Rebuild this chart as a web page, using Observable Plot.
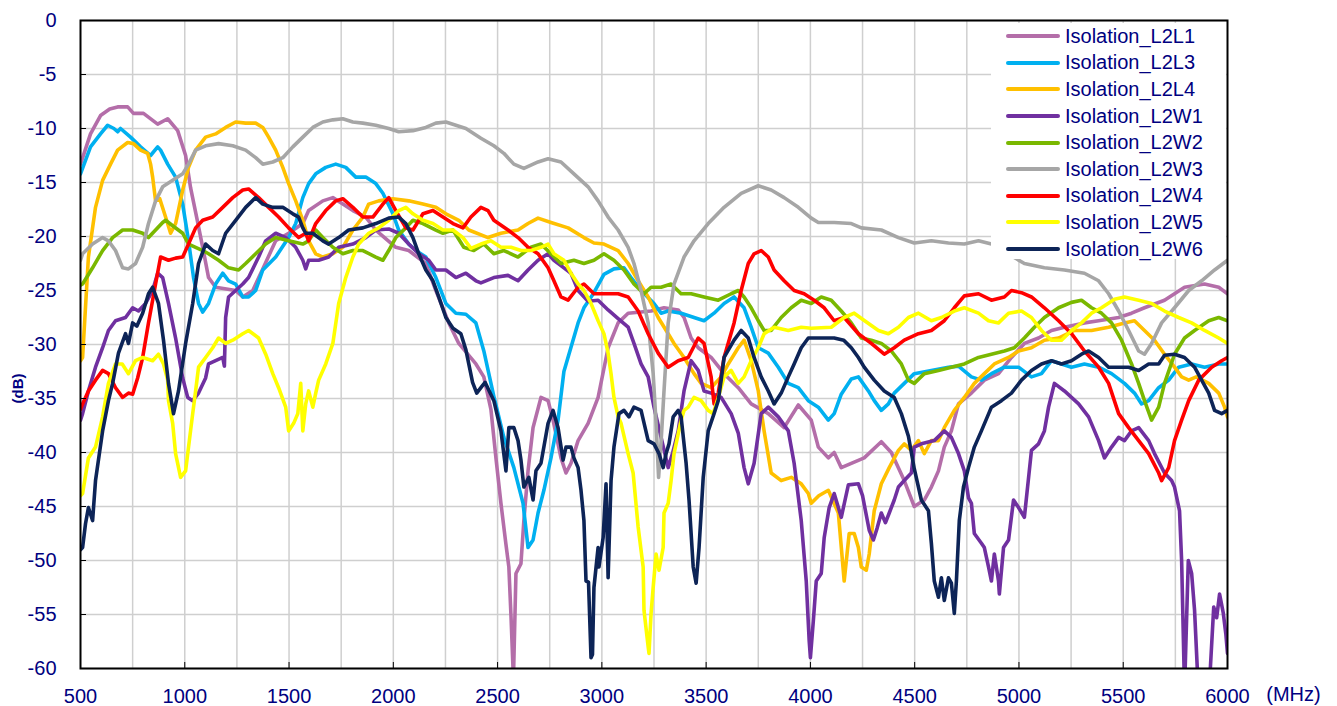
<!DOCTYPE html>
<html>
<head>
<meta charset="utf-8">
<script src="https://cdn.jsdelivr.net/npm/d3@7"></script>
<script src="https://cdn.jsdelivr.net/npm/@observablehq/plot@0.6"></script>
<style>
  html, body { margin: 0; padding: 0; background: #fff; }
  #wrap { position: relative; width: 1337px; height: 706px; overflow: hidden; }
  #wrap svg { display: block; }
  #legend { position: absolute; left: 991px; top: 23px; width: 235px; height: 236px; background: #fff;
            font-family: Arial, "Liberation Sans", sans-serif; font-size: 20px; color: #000080; }
  .row { height: 26.6px; display: flex; align-items: center; white-space: nowrap; }
  .sw { width: 54px; height: 4px; margin-left: 15px; margin-right: 5px; border-radius: 2px; }
</style>
</head>
<body>
<div id="wrap"><div id="legend"></div></div>
<script>
// ---------- data (MHz, dB) ----------
const seriesNames = ["Isolation_L2L1","Isolation_L2L3","Isolation_L2L4","Isolation_L2W1","Isolation_L2W2","Isolation_L2W3","Isolation_L2W4","Isolation_L2W5","Isolation_L2W6"];
const seriesColors = ["#b46ea9","#00b0f0","#ffc000","#7030a0","#7ab800","#a6a6a6","#ff0000","#ffff00","#0d2457"];

const L2L1 = [[500,-13.3],[548,-10.5],[596,-8.8],[640,-8.2],[678,-8.0],[726,-8.0],[754,-8.6],[802,-8.6],[870,-9.6],[918,-9.1],[966,-10.2],[1004,-12.5],[1028,-15.5],[1060,-18.5],[1086,-21],[1114,-23.8],[1148,-24.7],[1244,-25],[1278,-25.6],[1326,-25],[1374,-23],[1436,-20.4],[1498,-19.7],[1566,-18.8],[1594,-17.6],[1662,-16.7],[1710,-16.4],[1758,-17],[1806,-17.6],[1868,-18.2],[1916,-19.4],[2012,-21],[2074,-21.3],[2156,-22.5],[2204,-25],[2266,-28],[2314,-29.9],[2396,-31.8],[2434,-33],[2468,-36],[2492,-40.5],[2516,-44.7],[2540,-48.5],[2554,-50.6],[2564,-55],[2576,-61],[2588,-51.2],[2612,-50.3],[2626,-46.3],[2646,-41.7],[2670,-37.7],[2708,-34.9],[2742,-35.2],[2766,-37],[2804,-40.5],[2828,-41.9],[2852,-41],[2886,-38.9],[2934,-37.3],[2982,-34.9],[3030,-30.3],[3078,-28],[3126,-27.1],[3236,-26.9],[3298,-26.6],[3366,-26.8],[3394,-27.5],[3428,-29.4],[3462,-30.3],[3524,-31.2],[3586,-32.7],[3654,-34],[3716,-35.5],[3798,-36.4],[3874,-37.7],[3942,-35.6],[4004,-37],[4038,-39.5],[4086,-40.5],[4114,-40],[4148,-41.4],[4196,-41],[4258,-40.5],[4340,-39],[4388,-40],[4450,-42.6],[4498,-45],[4546,-44.4],[4580,-43.2],[4614,-41.7],[4642,-39.5],[4676,-38],[4710,-35.5],[4772,-34.5],[4834,-33.3],[4902,-32.7],[4964,-31.2],[5026,-29.9],[5094,-29.4],[5156,-28.7],[5218,-28.4],[5314,-28],[5382,-27.8],[5478,-27.5],[5540,-27.1],[5602,-26.6],[5698,-25.9],[5794,-24.7],[5890,-24.4],[5958,-24.7],[6000,-25.3]];

const L2L3 = [[500,-14.2],[548,-11.7],[596,-10.5],[630,-9.7],[660,-10],[678,-10.3],[692,-10],[740,-10.8],[788,-11.7],[836,-12.5],[870,-11.7],[884,-12],[918,-13.3],[956,-14.5],[990,-17],[1018,-20.4],[1042,-23.8],[1066,-26.2],[1086,-27],[1114,-26.2],[1148,-24.4],[1182,-23.4],[1210,-24.1],[1244,-24.4],[1278,-25.6],[1306,-25.6],[1340,-25],[1374,-23.1],[1436,-21.9],[1498,-20.1],[1532,-18.8],[1566,-16.4],[1594,-15.1],[1628,-14.2],[1676,-13.6],[1724,-13.3],[1772,-13.6],[1820,-14.5],[1868,-14.5],[1916,-15.1],[1950,-16],[1998,-17.9],[2026,-19.4],[2074,-20.7],[2108,-21.3],[2156,-21.9],[2204,-23.8],[2252,-26.2],[2300,-27.1],[2348,-27.2],[2396,-28],[2434,-30.6],[2482,-34.8],[2530,-38.6],[2578,-41.4],[2622,-44.7],[2646,-48.8],[2670,-48.1],[2694,-45.6],[2722,-43.5],[2756,-40.5],[2790,-37],[2818,-32.5],[2886,-28],[2914,-26.6],[2962,-25.2],[3010,-23.5],[3058,-23],[3106,-22.9],[3140,-23.8],[3188,-25],[3250,-26.2],[3284,-27.1],[3318,-26.9],[3380,-27.1],[3442,-27.5],[3490,-27.8],[3538,-27.1],[3586,-26.2],[3634,-25.6],[3682,-26.6],[3716,-28.4],[3750,-30.3],[3798,-30.8],[3846,-32.1],[3894,-33.6],[3942,-34],[3990,-35.2],[4038,-35.8],[4086,-37],[4114,-36.4],[4148,-34.6],[4196,-33.2],[4230,-33],[4278,-34.3],[4306,-35.2],[4340,-36.1],[4374,-35.5],[4402,-34.5],[4450,-33.6],[4498,-32.7],[4580,-32.4],[4662,-32.1],[4710,-32],[4772,-33],[4820,-33.3],[4868,-32.7],[4930,-32.1],[4998,-32.1],[5060,-33],[5108,-32.7],[5156,-31.5],[5204,-31.8],[5252,-32.1],[5314,-31.8],[5382,-32.1],[5444,-32.7],[5506,-33.6],[5554,-34.5],[5588,-35.5],[5622,-35.2],[5670,-34],[5718,-33.3],[5766,-32.1],[5828,-31.8],[5890,-32.1],[5958,-31.8],[6000,-31.8]];

const L2L4 = [[500,-31.5],[510,-31.2],[538,-21.9],[572,-17.3],[606,-14.8],[644,-13.3],[678,-12],[726,-11.3],[754,-11.4],[788,-12],[822,-12.3],[836,-13.3],[846,-14.5],[860,-16.7],[880,-16.5],[908,-18.2],[932,-19.7],[956,-18.8],[990,-15.7],[1018,-13.6],[1052,-12],[1100,-10.8],[1148,-10.5],[1196,-9.9],[1244,-9.4],[1292,-9.5],[1340,-9.5],[1374,-9.9],[1402,-10.8],[1436,-12],[1470,-13.6],[1498,-15.1],[1532,-16.7],[1566,-18.5],[1594,-20.4],[1628,-21.6],[1662,-21.9],[1710,-21.6],[1758,-21],[1806,-19.4],[1854,-18.2],[1882,-17],[1930,-16.7],[1998,-16.5],[2074,-16.7],[2142,-17],[2204,-17.3],[2252,-17.9],[2314,-18.5],[2362,-19.4],[2454,-20.1],[2516,-19.7],[2598,-19.4],[2646,-18.8],[2694,-18.3],[2756,-18.7],[2838,-19.2],[2914,-20.1],[2962,-20.6],[3010,-20.7],[3078,-21.3],[3126,-22.5],[3174,-24.1],[3222,-25.6],[3270,-27.5],[3318,-29],[3346,-29.9],[3394,-31.2],[3442,-32.7],[3476,-33.6],[3524,-34],[3572,-33],[3606,-31.8],[3654,-30.3],[3682,-29.6],[3716,-31.5],[3750,-34.3],[3778,-38],[3812,-41.9],[3860,-42.6],[3908,-42.3],[3956,-42.9],[3990,-43.8],[4004,-44.7],[4040,-44],[4086,-43.5],[4134,-45.6],[4162,-51.9],[4186,-47.5],[4210,-47.5],[4230,-48.8],[4244,-50.6],[4268,-50.9],[4282,-49.4],[4306,-45.4],[4340,-42.9],[4378,-41.4],[4422,-39.8],[4450,-39.2],[4484,-39.8],[4518,-38.9],[4546,-40.1],[4580,-38.9],[4614,-38.9],[4642,-37.7],[4690,-36.1],[4738,-34.9],[4786,-33.6],[4834,-32.7],[4882,-31.8],[4950,-31.2],[4998,-30.6],[5060,-30.3],[5122,-29.6],[5190,-29.4],[5266,-28.7],[5348,-28.7],[5430,-28.4],[5506,-28],[5554,-27.8],[5602,-28.7],[5650,-29.6],[5698,-30.9],[5746,-32.1],[5780,-33],[5814,-33.3],[5850,-33],[5910,-33.6],[5958,-34.5],[5986,-35.8],[6000,-36.7]];

const L2W1 = [[500,-37],[510,-36.4],[538,-34.3],[572,-32.1],[606,-30.3],[634,-28.7],[668,-27.8],[716,-27.5],[750,-26.6],[778,-26.9],[812,-26.2],[846,-25],[870,-23.4],[894,-23.8],[922,-26.2],[956,-29.4],[990,-33.1],[1014,-34.9],[1038,-35.2],[1066,-34.5],[1100,-33.1],[1114,-31.8],[1148,-31.5],[1182,-31.2],[1190,-32],[1196,-27.5],[1210,-25.6],[1244,-25],[1278,-24.4],[1306,-23.8],[1354,-21.9],[1388,-20.4],[1436,-19.7],[1484,-20.1],[1532,-21],[1566,-22.2],[1580,-23],[1594,-22.2],[1642,-22.2],[1690,-21.9],[1738,-21],[1806,-20.7],[1868,-20.1],[1916,-19.4],[1978,-19.3],[2026,-19.7],[2074,-20.7],[2122,-21.6],[2170,-22.2],[2204,-23.1],[2252,-23.1],[2300,-23.8],[2348,-23.4],[2396,-24.1],[2420,-24.3],[2482,-23.8],[2550,-23.6],[2598,-24.1],[2646,-23.1],[2694,-22.2],[2742,-21.6],[2770,-22.2],[2818,-22.9],[2852,-23.4],[2886,-25],[2934,-26],[2982,-25.9],[3030,-26.8],[3078,-27.6],[3126,-28.4],[3154,-29.9],[3188,-31.8],[3222,-33],[3250,-35.8],[3284,-38.6],[3318,-41.4],[3340,-40],[3366,-38],[3394,-34.3],[3428,-31.5],[3462,-32.4],[3490,-34.3],[3524,-34.5],[3572,-34.9],[3620,-36.4],[3654,-38.2],[3682,-41.4],[3702,-42.9],[3730,-41],[3764,-36.4],[3798,-35.8],[3846,-36.7],[3894,-38],[3922,-41],[3956,-46.3],[3980,-51.9],[3994,-57.4],[4000,-59],[4014,-55.6],[4028,-51.9],[4052,-51.2],[4066,-47.9],[4090,-45.1],[4114,-43.8],[4134,-45.1],[4148,-46],[4182,-43],[4230,-42.9],[4250,-44],[4282,-47.2],[4302,-48.1],[4320,-47],[4340,-45.6],[4360,-46.5],[4378,-45.6],[4402,-44.4],[4422,-43.2],[4450,-42.6],[4484,-41.9],[4498,-39.5],[4532,-39.2],[4594,-38.9],[4642,-38],[4676,-38.6],[4710,-40.1],[4738,-41.7],[4758,-44.2],[4772,-44.7],[4786,-47.5],[4820,-48.4],[4834,-48.8],[4854,-50.6],[4868,-51.9],[4882,-49.4],[4902,-51.9],[4906,-53.1],[4926,-48.8],[4950,-48.1],[4974,-44.4],[4998,-45.1],[5026,-46],[5060,-39.8],[5094,-39.2],[5122,-38],[5142,-35.8],[5170,-33.6],[5218,-34.3],[5286,-35.5],[5334,-36.7],[5382,-38.9],[5410,-40.5],[5444,-39.5],[5478,-38.6],[5506,-38.9],[5540,-38],[5574,-37.7],[5622,-38.9],[5650,-40.1],[5698,-41.9],[5732,-42.6],[5746,-43.2],[5770,-45.4],[5780,-50],[5794,-62],[5812,-50],[5828,-51.2],[5842,-54.6],[5860,-62],[5912,-62],[5934,-54.3],[5948,-55.3],[5962,-53.1],[5980,-54.9],[5992,-56.8],[6000,-58.6]];

const L2W2 = [[500,-24.5],[510,-24.4],[558,-22.9],[606,-21.3],[654,-20.1],[702,-19.4],[750,-19.4],[798,-19.7],[826,-20.1],[860,-19.4],[894,-18.7],[908,-18.5],[942,-19],[990,-19.7],[1018,-20.7],[1052,-21],[1086,-21.3],[1114,-21.6],[1162,-22.2],[1210,-22.9],[1258,-23.1],[1292,-22.5],[1340,-21.6],[1388,-20.7],[1436,-20.1],[1498,-20.4],[1566,-20.7],[1594,-20.4],[1628,-19.4],[1662,-20.1],[1710,-21],[1758,-21.6],[1806,-21.3],[1854,-21.3],[1916,-21.9],[1950,-22.2],[1978,-21.3],[2012,-20.1],[2060,-19.2],[2094,-18.5],[2142,-18.8],[2204,-19.4],[2238,-19.7],[2286,-19.4],[2338,-21],[2386,-21.3],[2434,-20.7],[2482,-21.6],[2530,-21.3],[2598,-21.9],[2660,-21],[2708,-20.7],[2756,-21.6],[2804,-22.5],[2866,-22.2],[2914,-22.5],[2962,-22.2],[3010,-21.6],[3058,-22.2],[3106,-23.1],[3154,-24.4],[3202,-25.3],[3236,-24.7],[3284,-24.7],[3332,-24.4],[3380,-25.3],[3428,-25.3],[3490,-25.6],[3558,-25.9],[3620,-25.3],[3654,-25],[3682,-25.6],[3716,-26.6],[3750,-27.8],[3778,-28.7],[3812,-28.7],[3860,-27.5],[3908,-26.6],[3956,-25.9],[4004,-26.2],[4052,-25.6],[4100,-25.9],[4148,-26.9],[4196,-28],[4244,-29.4],[4292,-29.6],[4340,-29.9],[4388,-30.6],[4436,-31.8],[4470,-33.3],[4498,-33.6],[4546,-32.7],[4614,-32.4],[4676,-32.1],[4738,-31.8],[4806,-31.2],[4868,-30.9],[4930,-30.6],[4978,-30.3],[5026,-29.4],[5074,-28.4],[5122,-27.5],[5190,-26.6],[5252,-26.1],[5300,-25.9],[5348,-26.6],[5396,-27.1],[5444,-28],[5492,-29.6],[5540,-31.8],[5574,-33.6],[5602,-35.2],[5636,-37],[5670,-35.8],[5698,-33.6],[5746,-30.9],[5794,-29.4],[5842,-28.7],[5910,-27.8],[5958,-27.5],[6000,-27.8]];

const L2W3 = [[500,-22.2],[510,-21.6],[558,-20.7],[606,-20.1],[634,-20.4],[668,-21.3],[702,-22.9],[730,-23],[764,-22.5],[798,-21],[826,-18.8],[860,-16.7],[894,-15.4],[942,-14.8],[990,-14.2],[1018,-13.3],[1052,-12],[1100,-11.6],[1162,-11.4],[1230,-11.6],[1292,-12],[1340,-12.7],[1374,-13.3],[1422,-13.1],[1470,-12.7],[1518,-11.7],[1566,-10.8],[1614,-9.9],[1662,-9.4],[1710,-9.2],[1758,-9.1],[1806,-9.4],[1854,-9.5],[1916,-9.7],[1978,-10],[2026,-10.3],[2094,-10.2],[2156,-9.9],[2204,-9.5],[2252,-9.4],[2300,-9.7],[2348,-10],[2396,-10.6],[2420,-10.9],[2482,-11.6],[2530,-12.3],[2578,-13.3],[2626,-13.7],[2694,-13.1],[2742,-12.8],[2804,-13.1],[2866,-14.2],[2934,-15.4],[2982,-16.7],[3030,-18.2],[3078,-19.4],[3126,-21],[3154,-22.5],[3188,-25],[3222,-28],[3246,-32.7],[3260,-37.3],[3272,-42.3],[3284,-39],[3298,-34.3],[3318,-28],[3346,-24.4],[3394,-21.9],[3442,-20.4],[3510,-18.8],[3586,-17.3],[3668,-16],[3750,-15.3],[3812,-15.7],[3874,-16.4],[3942,-17.3],[4004,-18.3],[4038,-18.7],[4114,-18.7],[4196,-18.8],[4244,-19.2],[4340,-19.4],[4422,-20.1],[4498,-20.6],[4580,-20.4],[4662,-20.6],[4738,-20.7],[4806,-20.4],[4868,-20.7],[5026,-22.5],[5122,-22.9],[5218,-23.1],[5314,-23.4],[5382,-24.1],[5430,-25.3],[5478,-26.9],[5526,-28.7],[5574,-30.6],[5602,-30.9],[5636,-29.9],[5684,-28],[5746,-26.6],[5814,-25],[5876,-24.1],[5938,-23.1],[6000,-22.2]];

const L2W4 = [[500,-36],[510,-35.5],[538,-34.3],[572,-33.3],[606,-32.4],[634,-32.7],[668,-34],[702,-34.9],[730,-34.5],[750,-34.6],[774,-33.1],[798,-31.2],[826,-28],[860,-24.4],[884,-21.9],[922,-22.2],[956,-22],[990,-21.9],[1018,-20.7],[1052,-19.2],[1086,-18.5],[1134,-18.2],[1182,-17.3],[1230,-16.4],[1278,-15.7],[1306,-15.6],[1354,-16.4],[1402,-17.3],[1450,-18.2],[1498,-19.2],[1546,-20.1],[1580,-19.7],[1594,-20.4],[1628,-18.8],[1676,-17.6],[1724,-16.7],[1758,-16.5],[1806,-17.3],[1854,-18.2],[1902,-18.2],[1950,-17],[1978,-16.4],[2012,-17.6],[2060,-19.2],[2094,-19.4],[2142,-17.9],[2190,-17.6],[2238,-18.2],[2286,-18.8],[2334,-19.2],[2372,-18.2],[2420,-17.3],[2454,-17.6],[2482,-18.5],[2550,-19.4],[2598,-20.1],[2646,-21],[2694,-21.6],[2742,-22.9],[2770,-24.1],[2804,-25.6],[2838,-25.9],[2886,-24.7],[2914,-24.4],[2962,-25.3],[3010,-25.3],[3078,-25.3],[3126,-25.6],[3174,-26.9],[3222,-29],[3270,-30.8],[3318,-32.1],[3366,-31.5],[3414,-31.2],[3462,-29.4],[3490,-29.9],[3524,-33],[3538,-35.5],[3558,-34.5],[3586,-31.2],[3634,-28],[3668,-25],[3702,-22.5],[3730,-21.6],[3764,-21.3],[3798,-21.9],[3826,-23.1],[3874,-24.1],[3922,-25],[3970,-25.3],[4018,-25.9],[4066,-26.6],[4114,-27.8],[4162,-27.5],[4230,-29],[4292,-29.9],[4354,-30.9],[4402,-30.3],[4450,-29.6],[4518,-29],[4580,-28.7],[4642,-27.8],[4690,-26.6],[4738,-25.5],[4806,-25.3],[4868,-25.9],[4930,-25.6],[4964,-25],[5012,-25.2],[5060,-25.6],[5122,-26.6],[5190,-27.8],[5252,-29],[5314,-30.6],[5382,-32.1],[5430,-33.6],[5478,-36.4],[5526,-37.7],[5574,-38.9],[5622,-40.1],[5670,-41.9],[5684,-42.6],[5718,-41.4],[5746,-38.9],[5780,-37],[5814,-35.2],[5862,-33.3],[5924,-32.1],[5972,-31.5],[6000,-31.2]];

const L2W5 = [[500,-44],[510,-43.8],[538,-40.5],[572,-39.5],[606,-36.7],[634,-33.6],[668,-31.8],[700,-31.8],[730,-32.7],[764,-31.5],[798,-31.2],[846,-31.5],[874,-30.9],[898,-31.8],[918,-33.3],[922,-35.2],[942,-37.3],[956,-40.1],[980,-42.3],[1004,-41.7],[1018,-39.5],[1038,-36.4],[1052,-34.3],[1066,-32.1],[1100,-31.2],[1134,-30.3],[1162,-29.4],[1196,-29.9],[1230,-29.6],[1278,-29],[1306,-28.7],[1354,-29.4],[1388,-30.9],[1422,-32.7],[1450,-34],[1484,-35.8],[1498,-38],[1522,-37.3],[1542,-36.4],[1556,-33.6],[1566,-38],[1580,-35.5],[1594,-34.3],[1614,-35.8],[1628,-34.5],[1642,-33.3],[1676,-31.8],[1710,-29.9],[1738,-26.2],[1772,-23.8],[1806,-21.9],[1834,-20.7],[1882,-19.7],[1930,-19.2],[1978,-18.5],[2026,-17.6],[2060,-17.3],[2094,-17.9],[2142,-18.5],[2190,-18.8],[2238,-19.4],[2286,-19.4],[2334,-20.1],[2372,-21.1],[2420,-20.7],[2468,-20.4],[2516,-21],[2564,-21],[2612,-21.3],[2660,-21.3],[2708,-21],[2742,-20.7],[2770,-21.6],[2818,-22.2],[2852,-23.4],[2886,-24.4],[2914,-25],[2948,-26.2],[2982,-27.8],[3010,-29],[3030,-30.8],[3044,-32.7],[3058,-34.9],[3078,-36.7],[3092,-37.3],[3126,-40.1],[3150,-41.9],[3174,-46.9],[3198,-50.6],[3202,-54.6],[3222,-58],[3226,-58.6],[3236,-54.9],[3246,-52.5],[3260,-49.4],[3274,-50.9],[3294,-48.8],[3298,-45.6],[3318,-44.7],[3332,-42.6],[3346,-40.1],[3380,-37],[3394,-36.1],[3414,-35.8],[3442,-34.9],[3476,-35.2],[3510,-36.1],[3534,-36.4],[3558,-34.9],[3586,-33],[3620,-32.4],[3654,-33.6],[3682,-33],[3716,-31.5],[3750,-30.3],[3778,-29],[3826,-28.4],[3894,-28.7],[3956,-28.4],[4004,-28.5],[4100,-28.4],[4162,-27.5],[4210,-27.1],[4260,-27.8],[4326,-28.7],[4374,-29],[4422,-28.4],[4470,-27.5],[4518,-27.1],[4580,-27.8],[4628,-27.5],[4690,-26.9],[4738,-26.6],[4806,-27.1],[4854,-27.8],[4902,-28],[4950,-27.1],[5012,-26.9],[5060,-27.5],[5108,-28.7],[5156,-29.6],[5204,-29.6],[5252,-28.7],[5300,-28],[5348,-27.1],[5396,-26.6],[5458,-25.8],[5506,-25.6],[5574,-25.9],[5636,-26.2],[5698,-26.9],[5766,-27.5],[5828,-28],[5890,-28.7],[5958,-29.4],[6000,-29.9]];

const L2W6 = [[500,-49],[510,-48.8],[524,-46.6],[538,-45.1],[558,-46.3],[572,-42.6],[606,-38],[634,-35.2],[654,-33.6],[682,-30.8],[716,-29],[730,-29.9],[750,-28],[770,-28.3],[798,-27.1],[826,-25.3],[846,-24.7],[874,-26.2],[898,-29.6],[922,-33.6],[946,-36.4],[970,-34.3],[1004,-29.9],[1038,-26.2],[1066,-22.5],[1100,-20.7],[1134,-21.3],[1162,-21.6],[1196,-19.7],[1244,-18.5],[1292,-17.3],[1340,-16.4],[1374,-17],[1422,-17.3],[1470,-17.3],[1518,-17.9],[1546,-18.2],[1566,-19.2],[1580,-19.7],[1614,-19.7],[1662,-20.4],[1690,-20.7],[1738,-20.1],[1786,-19.4],[1854,-19.2],[1916,-18.8],[1978,-18.3],[2026,-18.2],[2060,-18.8],[2094,-20.1],[2122,-21.6],[2156,-23.1],[2190,-24.1],[2218,-25.6],[2252,-27.5],[2286,-28.5],[2324,-29],[2348,-30.5],[2380,-33.5],[2400,-34.5],[2420,-34],[2440,-33.5],[2482,-35.2],[2516,-38],[2540,-41.7],[2554,-37.7],[2578,-37.7],[2598,-38.9],[2612,-40.7],[2626,-43.2],[2650,-42.3],[2670,-44.4],[2684,-41.7],[2708,-41],[2742,-37.3],[2766,-36.1],[2790,-37.7],[2814,-40.7],[2828,-39.5],[2852,-39.5],[2866,-40.5],[2886,-41.4],[2900,-43.5],[2914,-46.3],[2924,-51.9],[2936,-52],[2948,-59],[2955,-58.7],[2962,-52.5],[2982,-48.8],[2986,-50.6],[3006,-47.9],[3020,-42.9],[3030,-51.6],[3044,-42.6],[3058,-39.5],[3082,-36.4],[3106,-36.1],[3130,-36.7],[3154,-35.8],[3188,-36.1],[3222,-38.9],[3250,-39.2],[3274,-40.1],[3294,-41.4],[3308,-40.1],[3322,-39.2],[3342,-36.7],[3366,-36.1],[3380,-36.7],[3404,-41],[3418,-44.4],[3438,-50.6],[3452,-52.1],[3466,-48.8],[3486,-42.3],[3510,-38],[3538,-36.4],[3558,-35.2],[3572,-33.3],[3586,-31.2],[3634,-29.6],[3668,-28.7],[3702,-29.4],[3730,-31.2],[3764,-33],[3798,-34.3],[3826,-35.5],[3860,-34.5],[3894,-33],[3922,-31.8],[3956,-30.3],[3990,-29.4],[4050,-29.4],[4114,-29.4],[4160,-29.6],[4196,-30.3],[4230,-31.2],[4258,-32.1],[4306,-33.3],[4354,-34.3],[4402,-34.9],[4436,-36.4],[4470,-38.5],[4498,-41.5],[4532,-44.4],[4566,-45.4],[4580,-48.4],[4594,-51.9],[4614,-53.4],[4628,-51.6],[4642,-53.7],[4662,-51.6],[4676,-52.1],[4690,-54.9],[4700,-51.9],[4714,-46.3],[4734,-43.2],[4758,-41.4],[4786,-39.5],[4820,-38],[4868,-35.8],[4916,-35.2],[4964,-34.5],[5012,-33.3],[5060,-32.4],[5108,-31.8],[5156,-31.5],[5204,-31.8],[5252,-31.5],[5300,-30.9],[5334,-30.6],[5382,-31.2],[5430,-32.1],[5478,-32.1],[5526,-32.1],[5574,-32.4],[5622,-31.8],[5670,-31.8],[5698,-31],[5746,-30.9],[5794,-31.2],[5842,-32.1],[5876,-33.3],[5910,-34.5],[5938,-36.1],[5972,-36.4],[6000,-36.1]];

const xTicks = [500,1000,1500,2000,2500,3000,3500,4000,4500,5000,5500,6000];
const xGrid = [750,1000,1250,1500,1750,2000,2250,2500,2750,3000,3250,3500,3750,4000,4250,4500,4750,5000,5250,5500,5750];
const yTicks = [0,-5,-10,-15,-20,-25,-30,-35,-40,-45,-50,-55,-60];

// ---------- chart ----------
const seriesData = [L2L1, L2L3, L2L4, L2W1, L2W2, L2W3, L2W4, L2W5, L2W6];
const navy = "#000080";

const chart = Plot.plot({
  width: 1337,
  height: 706,
  marginLeft: 80,
  marginRight: 110,
  marginTop: 20,
  marginBottom: 38,
  x: {domain: [500, 6000]},
  y: {domain: [-60, 0]},
  style: {fontFamily: "Arial, 'Liberation Sans', sans-serif", background: "#fff", color: navy, overflow: "visible"},
  marks: [
    Plot.gridX(xGrid, {stroke: "#cfcfcf", strokeOpacity: 1, strokeWidth: 1.5}),
    Plot.gridY(yTicks, {stroke: "#cfcfcf", strokeOpacity: 1, strokeWidth: 1.5}),
    ...seriesData.map((data, i) => Plot.line(data, {
      x: d => d[0], y: d => d[1], stroke: seriesColors[i], strokeWidth: 3.6, clip: true
    })),
    Plot.frame({stroke: "#000", strokeWidth: 2}),
    Plot.axisY(yTicks, {tickSize: -6, tickPadding: 30, tickFormat: d => String(d), fontSize: 20, stroke: "#000", fill: navy, label: null}),
    Plot.axisX(xTicks, {tickSize: -6, tickPadding: 26, tickFormat: d => String(d), fontSize: 20, stroke: "#000", fill: navy, label: null}),
    Plot.text(["(dB)"], {frameAnchor: "left", dx: -62, dy: 44, rotate: -90, textAnchor: "middle", lineAnchor: "middle", fontSize: 15, fontWeight: "bold", fill: navy, text: d => d}),
    Plot.text(["(MHz)"], {frameAnchor: "bottom-right", dx: 66, dy: 26, textAnchor: "middle", lineAnchor: "middle", fontSize: 20, fill: navy, text: d => d})
  ]
});
document.getElementById("wrap").prepend(chart);

// legend
const legend = document.getElementById("legend");
seriesNames.forEach((name, i) => {
  const row = document.createElement("div");
  row.className = "row";
  const sw = document.createElement("span");
  sw.className = "sw";
  sw.style.background = seriesColors[i];
  const t = document.createElement("span");
  t.textContent = name;
  row.append(sw, t);
  legend.append(row);
});
</script>
</body>
</html>
